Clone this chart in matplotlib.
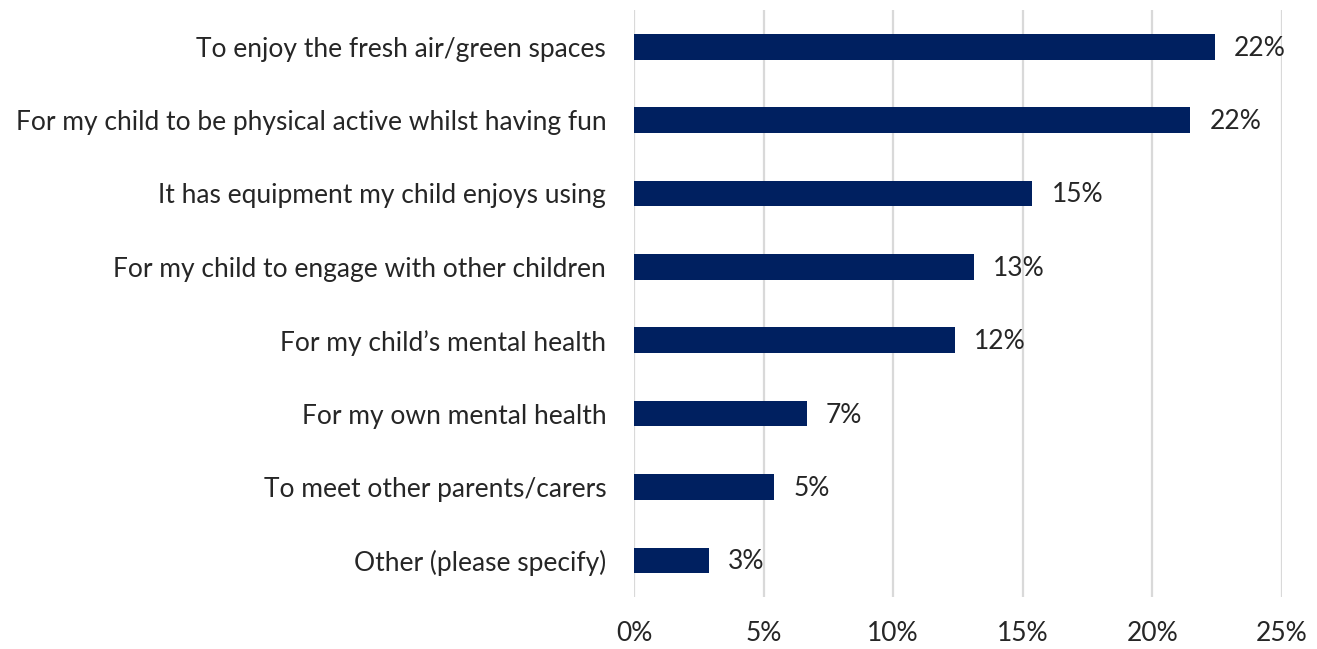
import matplotlib
matplotlib.use("Agg")
import matplotlib.pyplot as plt
from matplotlib.ticker import FuncFormatter

# Reasons for visiting the play area (share of responses, %)
REASONS = [
    "To enjoy the fresh air/green spaces",
    "For my child to be physical active whilst having fun",
    "It has equipment my child enjoys using",
    "For my child to engage with other children",
    "For my child\u2019s mental health",
    "For my own mental health",
    "To meet other parents/carers",
    "Other (please specify)",
]
SHARES = [22.4, 21.45, 15.37, 13.1, 12.38, 6.66, 5.41, 2.89]
SHARE_LABELS = ["22%", "22%", "15%", "13%", "12%", "7%", "5%", "3%"]
X_TICKS = [0, 5, 10, 15, 20, 25]

BAR_COLOR = "#002060"
GRID_COLOR = "#d9d9d9"
TEXT_COLOR = "#262626"

plt.rcParams["font.family"] = ["Lato", "DejaVu Sans"]

fig = plt.figure(figsize=(13.17, 6.49), dpi=100)
ax = fig.add_axes([0.4814, 0.080, 0.492, 0.9046])

y = list(range(len(REASONS)))
bars = ax.barh(y, SHARES, height=0.35, color=BAR_COLOR, zorder=3)

for bar, lab in zip(bars, SHARE_LABELS):
    ax.annotate(lab, (bar.get_width(), bar.get_y() + bar.get_height() / 2),
                xytext=(14, -1), textcoords="offset points",
                va="center", ha="left", fontsize=19, color=TEXT_COLOR)

ax.set_xlim(0, 25)
ax.set_ylim(len(REASONS) - 0.5, -0.5)
ax.set_xticks(X_TICKS)
ax.xaxis.set_major_formatter(FuncFormatter(lambda v, _: f"{v:.0f}%"))
ax.set_yticks(y)
ax.set_yticklabels(REASONS)

ax.grid(axis="x", color=GRID_COLOR, linewidth=1.6, zorder=0)
for side in ["top", "right", "bottom", "left"]:
    ax.spines[side].set_visible(False)
ax.tick_params(axis="both", length=0, labelsize=19, labelcolor=TEXT_COLOR)
ax.tick_params(axis="y", pad=20)
ax.tick_params(axis="x", pad=17)

fig.savefig("out.png", dpi=100)
